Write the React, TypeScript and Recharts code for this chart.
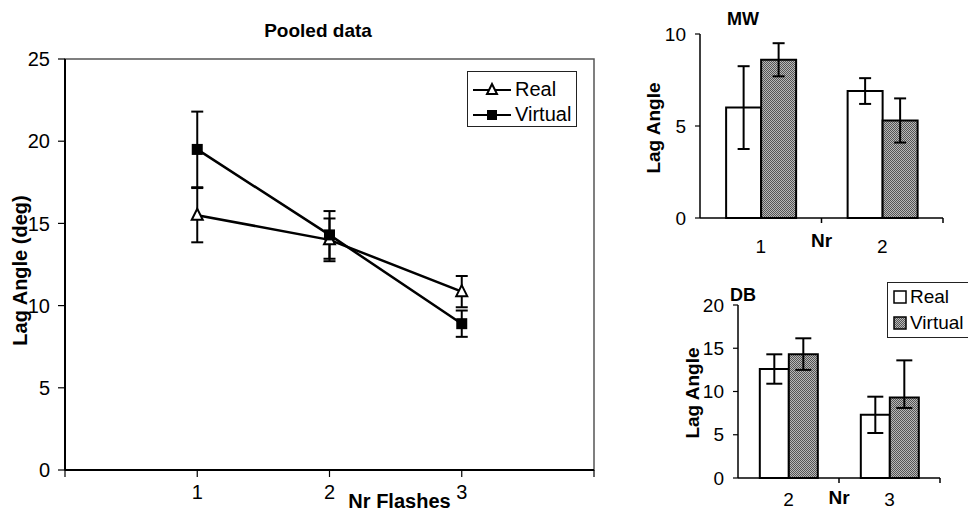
import React from 'react';
import {
  LineChart,
  Line,
  BarChart,
  Bar,
  XAxis,
  YAxis,
  ErrorBar,
  Legend,
  ReferenceArea,
} from 'recharts';

const FONT = '"Liberation Sans", Arial, Helvetica, sans-serif';

// Pooled data (left panel)
const flashes = [1, 2, 3];
const realMeans = [15.5, 14.0, 10.85];
const realErrs = [1.65, 1.3, 0.95];
const virtualMeans = [19.5, 14.3, 8.9];
const virtualErrs = [2.3, 1.45, 0.8];
const pooledXTicks = [0, 1, 2, 3, 4];
const pooledYTicks = [0, 5, 10, 15, 20, 25];
const seriesNames = ['Real', 'Virtual'];

// MW (top right)
const mwCats = ['1', '2'];
const mwReal = [6.0, 6.9];
const mwRealErr = [2.25, 0.7];
const mwVirtual = [8.6, 5.3];
const mwVirtualErr = [0.9, 1.2];
const mwYTicks = [0, 5, 10];

// DB (bottom right)
const dbCats = ['2', '3'];
const dbReal = [12.6, 7.3];
const dbRealErr = [1.7, 2.1];
const dbVirtual = [14.3, 9.3];
const dbVirtualErr = [
  [1.8, 1.85],
  [1.2, 4.3],
];
const dbYTicks = [0, 5, 10, 15, 20];

const pooledData = flashes.map((f, i) => ({
  flash: f,
  real: realMeans[i],
  realErr: realErrs[i],
  virtual: virtualMeans[i],
  virtualErr: virtualErrs[i],
}));

const mwData = mwCats.map((c, i) => ({
  cat: c,
  real: mwReal[i],
  realErr: mwRealErr[i],
  virtual: mwVirtual[i],
  virtualErr: mwVirtualErr[i],
}));

const dbData = dbCats.map((c, i) => ({
  cat: c,
  real: dbReal[i],
  realErr: dbRealErr[i],
  virtual: dbVirtual[i],
  virtualErr: dbVirtualErr[i],
}));

const boldText = { fontWeight: 'bold', fill: '#000', fontFamily: FONT };

// rotated y-axis title, centred on the axis box
const vertLabel = (text: string, x: number, dy: number, size: number) => (props: any) => {
  const vb = props.viewBox;
  const cx = vb.x + x;
  const cy = vb.y + vb.height / 2 + dy;
  return (
    <text
      x={cx}
      y={cy}
      transform={`rotate(-90 ${cx} ${cy})`}
      textAnchor="middle"
      dominantBaseline="central"
      style={{ ...boldText, fontSize: size }}
    >
      {text}
    </text>
  );
};

// category tick with tick marks between the categories (excel style)
const makeBandTick = (gap: number, size: number) => (props: any) => {
  const { x, y, payload, index, visibleTicksCount } = props;
  const half = payload?.offset ?? 0;
  const axisY = y - gap;
  return (
    <g key={`t-${index}`}>
      {index > 0 && (
        <line x1={x - half} x2={x - half} y1={axisY} y2={axisY + 5} stroke="#000" strokeWidth={1.5} />
      )}
      {index === visibleTicksCount - 1 && (
        <line x1={x + half} x2={x + half} y1={axisY} y2={axisY + 5} stroke="#000" strokeWidth={1.5} />
      )}
      <text x={x} y={y} dy="0.71em" textAnchor="middle" fill="#000" fontSize={size} fontFamily={FONT}>
        {payload.value}
      </text>
    </g>
  );
};

const TriangleDot = (props: any) => {
  const { cx, cy, index } = props;
  return (
    <polygon
      key={`tri-${index}`}
      points={`${cx},${cy - 6.5} ${cx - 5.5},${cy + 4.5} ${cx + 5.5},${cy + 4.5}`}
      fill="#fff"
      stroke="#000"
      strokeWidth={2}
    />
  );
};

const SquareDot = (props: any) => {
  const { cx, cy, index } = props;
  return <rect key={`sq-${index}`} x={cx - 5.5} y={cy - 5.5} width={11} height={11} fill="#000" />;
};

const PooledLegend = () => (
  <div
    style={{
      boxSizing: 'border-box',
      width: 110,
      height: 56,
      border: '1.5px solid #222',
      background: '#fff',
      padding: '5px 0 0 5px',
      fontSize: 20,
      fontFamily: FONT,
      color: '#000',
    }}
  >
    {seriesNames.map((name, i) => (
      <div key={name} style={{ display: 'flex', alignItems: 'center', height: 25 }}>
        <svg width={38} height={20}>
          <line x1={0} x2={38} y1={10} y2={10} stroke="#000" strokeWidth={2} />
          {i === 0 ? (
            <polygon points="19,4 14,14 24,14" fill="#fff" stroke="#000" strokeWidth={2} />
          ) : (
            <rect x={14} y={5} width={10} height={10} fill="#000" />
          )}
        </svg>
        <span style={{ marginLeft: 4 }}>{name}</span>
      </div>
    ))}
  </div>
);

const BarLegend = () => (
  <div
    style={{
      boxSizing: 'border-box',
      width: 110,
      height: 56,
      border: '1.5px solid #222',
      background: '#fff',
      padding: '1px 0 0 5px',
      fontSize: 19,
      fontFamily: FONT,
      color: '#000',
    }}
  >
    {seriesNames.map((name, i) => (
      <div key={name} style={{ display: 'flex', alignItems: 'center', height: 26 }}>
        <svg width={14} height={14}>
          <rect
            x={1}
            y={1}
            width={12}
            height={12}
            fill={i === 0 ? '#fff' : 'url(#grayDots)'}
            stroke="#000"
            strokeWidth={1.5}
          />
        </svg>
        <span style={{ marginLeft: 3 }}>{name}</span>
      </div>
    ))}
  </div>
);

const axisLine = { stroke: '#000', strokeWidth: 1.5 };
const tickLine = { stroke: '#000', strokeWidth: 1.2 };

export default function App() {
  return (
    <div
      style={{
        position: 'absolute',
        left: 0,
        top: 0,
        width: 968,
        height: 512,
        overflow: 'hidden',
        background: '#fff',
        fontFamily: FONT,
      }}
    >
      <svg width={0} height={0} style={{ position: 'absolute' }}>
        <defs>
          <pattern id="grayDots" width={2} height={2} patternUnits="userSpaceOnUse">
            <rect width={2} height={2} fill="#b8b8b8" />
            <rect width={1} height={1} fill="#555" />
            <rect x={1} y={1} width={1} height={1} fill="#555" />
          </pattern>
        </defs>
      </svg>

      <div
        style={{
          position: 'absolute',
          left: 218,
          top: 20,
          width: 200,
          textAlign: 'center',
          fontSize: 19,
          fontWeight: 'bold',
          lineHeight: '22px',
        }}
      >
        Pooled data
      </div>
      <div
        style={{
          position: 'absolute',
          left: 693,
          top: 8,
          width: 100,
          textAlign: 'center',
          fontSize: 18,
          fontWeight: 'bold',
          lineHeight: '22px',
        }}
      >
        MW
      </div>
      <div
        style={{
          position: 'absolute',
          left: 693,
          top: 284,
          width: 100,
          textAlign: 'center',
          fontSize: 18,
          fontWeight: 'bold',
          lineHeight: '22px',
        }}
      >
        DB
      </div>

      {/* Pooled data */}
      <div style={{ position: 'absolute', left: 0, top: 0 }}>
        <LineChart width={610} height={512} data={pooledData} margin={{ top: 59, right: 16, bottom: 0, left: 0 }}>
          <ReferenceArea x1={0} x2={4} y1={0} y2={25} fill="none" stroke="#555" strokeWidth={1.5} />
          <XAxis
            type="number"
            dataKey="flash"
            domain={[0, 4]}
            ticks={pooledXTicks}
            interval={0}
            tickFormatter={(v: number) => (flashes.includes(v) ? String(v) : '')}
            height={42}
            axisLine={{ stroke: '#000', strokeWidth: 2 }}
            tickLine={tickLine}
            tickSize={7}
            tickMargin={8}
            tick={{ fill: '#000', fontSize: 20, fontFamily: FONT }}
            label={{
              value: 'Nr Flashes',
              position: 'insideBottom',
              offset: 4,
              dx: 70,
              style: { ...boldText, fontSize: 20 },
            }}
          />
          <YAxis
            type="number"
            domain={[0, 25]}
            ticks={pooledYTicks}
            interval={0}
            width={65}
            axisLine={{ stroke: '#000', strokeWidth: 2 }}
            tickLine={tickLine}
            tickSize={7}
            tickMargin={8}
            tick={{ fill: '#000', fontSize: 20, fontFamily: FONT }}
            label={vertLabel('Lag Angle (deg)', 20, 6, 20)}
          />
          <Legend
            layout="vertical"
            align="center"
            verticalAlign="middle"
            content={PooledLegend}
            wrapperStyle={{ left: 467, top: 71, width: 110, height: 56 }}
          />
          <Line
            dataKey="real"
            name={seriesNames[0]}
            stroke="#000"
            strokeWidth={2.5}
            dot={TriangleDot}
            isAnimationActive={false}
          >
            <ErrorBar dataKey="realErr" width={6} stroke="#000" strokeWidth={2} direction="y" />
          </Line>
          <Line
            dataKey="virtual"
            name={seriesNames[1]}
            stroke="#000"
            strokeWidth={2.5}
            dot={SquareDot}
            isAnimationActive={false}
          >
            <ErrorBar dataKey="virtualErr" width={6} stroke="#000" strokeWidth={2} direction="y" />
          </Line>
        </LineChart>
      </div>

      {/* MW */}
      <div style={{ position: 'absolute', left: 600, top: 0 }}>
        <BarChart
          width={368}
          height={260}
          data={mwData}
          margin={{ top: 34, right: 25, bottom: 0, left: 0 }}
          barCategoryGap="21.5%"
          barGap={0}
        >
          <XAxis
            dataKey="cat"
            height={42}
            axisLine={axisLine}
            tickLine={false}
            tickSize={5}
            tickMargin={17}
            interval={0}
            tick={makeBandTick(22, 19)}
            label={{ value: 'Nr', position: 'insideBottom', offset: 13, style: { ...boldText, fontSize: 19 } }}
          />
          <YAxis
            domain={[0, 10]}
            ticks={mwYTicks}
            interval={0}
            width={100}
            axisLine={axisLine}
            tickLine={tickLine}
            tickSize={5}
            tickMargin={9}
            tick={{ fill: '#000', fontSize: 19, fontFamily: FONT }}
            label={vertLabel('Lag Angle', 53, 2, 19)}
          />
          <Bar dataKey="real" name={seriesNames[0]} fill="#fff" stroke="#000" strokeWidth={2} isAnimationActive={false}>
            <ErrorBar dataKey="realErr" width={6} stroke="#000" strokeWidth={2} />
          </Bar>
          <Bar
            dataKey="virtual"
            name={seriesNames[1]}
            fill="url(#grayDots)"
            stroke="#000"
            strokeWidth={2}
            isAnimationActive={false}
          >
            <ErrorBar dataKey="virtualErr" width={6} stroke="#000" strokeWidth={2} />
          </Bar>
        </BarChart>
      </div>

      {/* DB */}
      <div style={{ position: 'absolute', left: 600, top: 270 }}>
        <BarChart
          width={368}
          height={242}
          data={dbData}
          margin={{ top: 35, right: 28, bottom: 0, left: 0 }}
          barCategoryGap="21.6%"
          barGap={0}
        >
          <XAxis
            dataKey="cat"
            height={34}
            axisLine={axisLine}
            tickLine={false}
            tickSize={5}
            tickMargin={10}
            interval={0}
            tick={makeBandTick(15, 19)}
            label={{ value: 'Nr', position: 'insideBottom', offset: 8, style: { ...boldText, fontSize: 19 } }}
          />
          <YAxis
            domain={[0, 20]}
            ticks={dbYTicks}
            interval={0}
            width={138}
            axisLine={axisLine}
            tickLine={tickLine}
            tickSize={5}
            tickMargin={9}
            tick={{ fill: '#000', fontSize: 19, fontFamily: FONT }}
            label={vertLabel('Lag Angle', 92, 1.5, 19)}
          />
          <Legend
            layout="vertical"
            align="center"
            verticalAlign="middle"
            content={BarLegend}
            wrapperStyle={{ left: 287, top: 12, width: 110, height: 56 }}
          />
          <Bar dataKey="real" name={seriesNames[0]} fill="#fff" stroke="#000" strokeWidth={2} isAnimationActive={false}>
            <ErrorBar dataKey="realErr" width={8} stroke="#000" strokeWidth={2} />
          </Bar>
          <Bar
            dataKey="virtual"
            name={seriesNames[1]}
            fill="url(#grayDots)"
            stroke="#000"
            strokeWidth={2}
            isAnimationActive={false}
          >
            <ErrorBar dataKey="virtualErr" width={8} stroke="#000" strokeWidth={2} />
          </Bar>
        </BarChart>
      </div>
    </div>
  );
}
